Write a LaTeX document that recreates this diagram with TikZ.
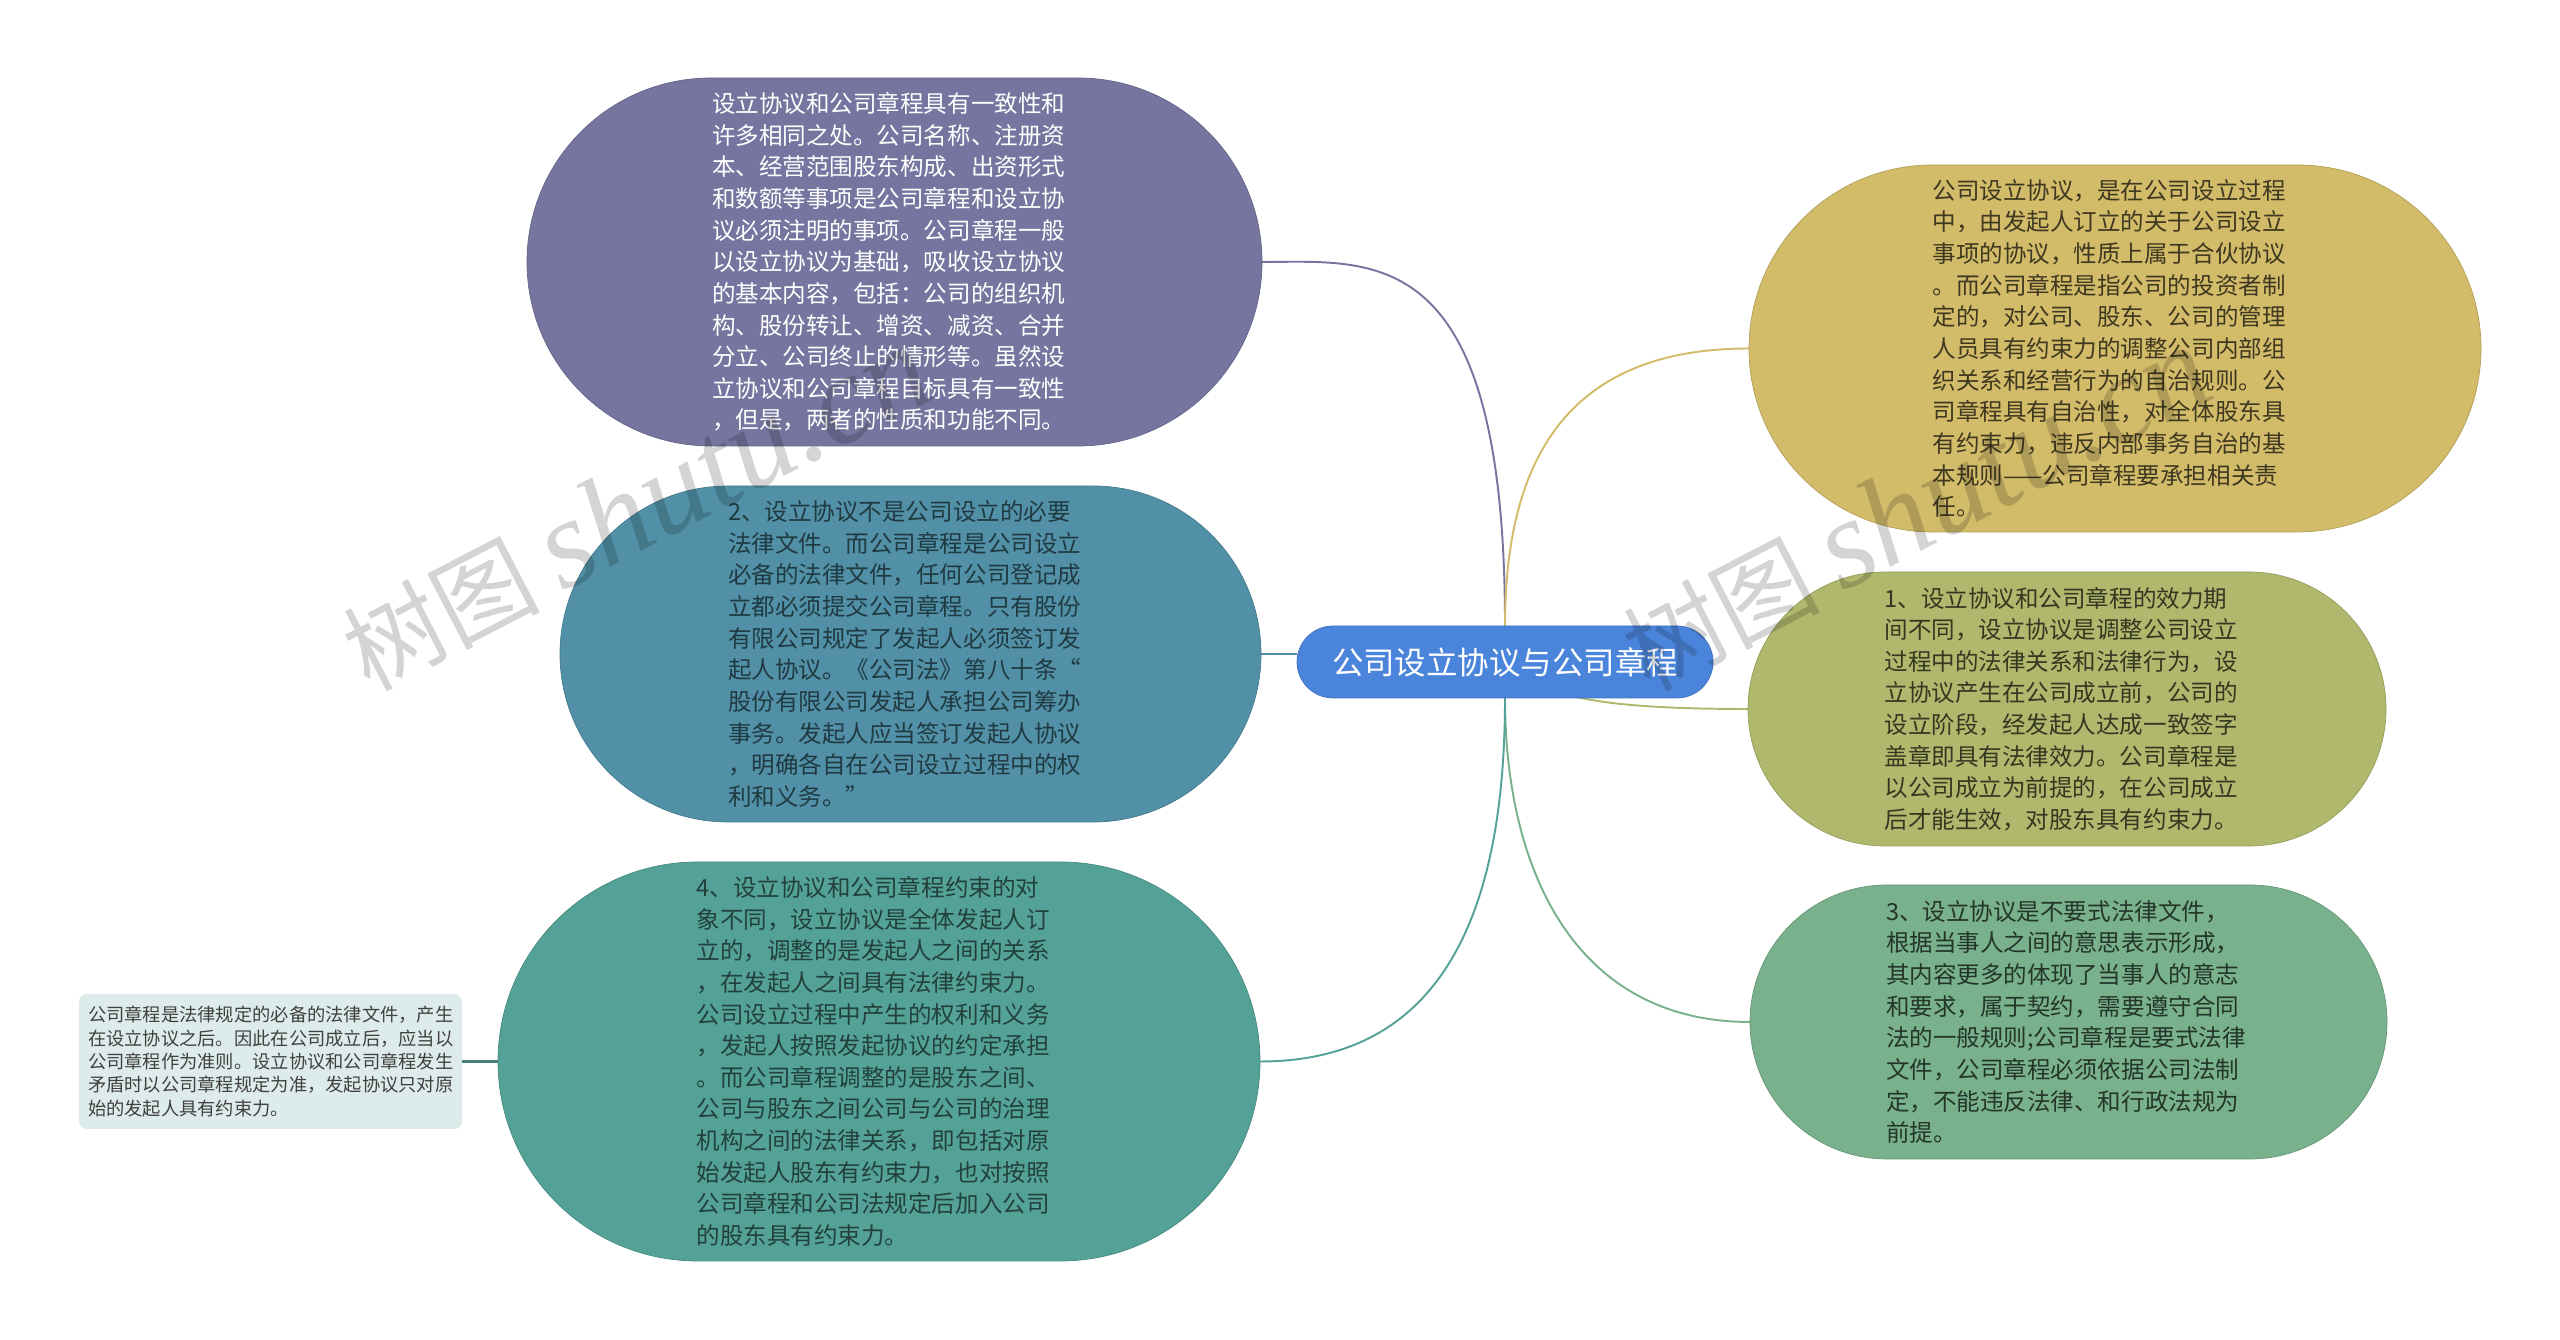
\documentclass[tikz,border=0pt]{standalone}
\usepackage{fontspec}
\setmainfont{Noto Sans CJK SC}
\newfontfamily\markfont{Liberation Serif}
\usetikzlibrary{calc,positioning,backgrounds,shapes.misc}

\definecolor{rootblue}{HTML}{4A85DB}
\definecolor{purplefill}{HTML}{76759F}
\definecolor{bluefill}{HTML}{5190A6}
\definecolor{tealfill}{HTML}{54A297}
\definecolor{noteill}{HTML}{DDECEA}
\definecolor{goldfill}{HTML}{D2BB69}
\definecolor{olivefill}{HTML}{AFB86C}
\definecolor{greenfill}{HTML}{78B18B}

\begin{document}
\begin{tikzpicture}

    \tikzstyle{pill}=[rounded rectangle,draw,outer sep=0pt,inner xsep=0pt,inner ysep=0pt,text width=7.3cm,align=left,font=\fontsize{13.4}{18}\selectfont]
    \tikzstyle{link}=[line width=1.1pt]
    \tikzstyle{stamp}=[font=\fontsize{56}{56}\selectfont,text=black,text opacity=0.17,rotate=27.5,anchor=base west,inner sep=0pt]

    \useasboundingbox (0,0) rectangle (51.2,26.8);

    \node (root) [rounded rectangle,fill=rootblue,draw=rootblue!85!black,outer sep=0pt,minimum width=8.32cm,minimum height=1.44cm,inner sep=0pt,text=white,font=\fontsize{17.9}{22}\selectfont] at (30.1,13.56) {公司设立协议与公司章程};

    \node (part_a) [pill,fill=purplefill,draw=purplefill!85!black,text=white,minimum height=7.36cm,minimum width=14.7cm] at (17.89,21.56) {设立协议和公司章程具有一致性和\\许多相同之处。公司名称、注册资\\本、经营范围股东构成、出资形式\\和数额等事项是公司章程和设立协\\议必须注明的事项。公司章程一般\\以设立协议为基础，吸收设立协议\\的基本内容，包括：公司的组织机\\构、股份转让、增资、减资、合并\\分立、公司终止的情形等。虽然设\\立协议和公司章程目标具有一致性\\，但是，两者的性质和功能不同。};

    \node (part_2) [pill,fill=bluefill,draw=bluefill!85!black,text=bluefill!40!black,minimum height=6.72cm,minimum width=14.02cm] at (18.21,13.72) {2、设立协议不是公司设立的必要\\法律文件。而公司章程是公司设立\\必备的法律文件，任何公司登记成\\立都必须提交公司章程。只有股份\\有限公司规定了发起人必须签订发\\起人协议。《公司法》第八十条“\\股份有限公司发起人承担公司筹办\\事务。发起人应当签订发起人协议\\，明确各自在公司设立过程中的权\\利和义务。”};

    \node (part_4) [pill,fill=tealfill,draw=tealfill!85!black,text=tealfill!40!black,minimum height=7.98cm,minimum width=15.24cm] at (17.58,5.57) {4、设立协议和公司章程约束的对\\象不同，设立协议是全体发起人订\\立的，调整的是发起人之间的关系\\，在发起人之间具有法律约束力。\\公司设立过程中产生的权利和义务\\，发起人按照发起协议的约定承担\\。而公司章程调整的是股东之间、\\公司与股东之间公司与公司的治理\\机构之间的法律关系，即包括对原\\始发起人股东有约束力，也对按照\\公司章程和公司法规定后加入公司\\的股东具有约束力。};

    \node (note_4) [fill=noteill,rounded corners=0.16cm,outer sep=0pt,inner xsep=0pt,inner ysep=0pt,text width=7.3cm,align=left,minimum width=7.66cm,minimum height=2.7cm,text=black!75,font=\fontsize{10.4}{13.3}\selectfont] at (5.41,5.57) {公司章程是法律规定的必备的法律文件，产生\\在设立协议之后。因此在公司成立后，应当以\\公司章程作为准则。设立协议和公司章程发生\\矛盾时以公司章程规定为准，发起协议只对原\\始的发起人具有约束力。};

    \node (part_gold) [pill,fill=goldfill,draw=goldfill!85!black,text=goldfill!30!black,minimum height=7.34cm,minimum width=14.64cm] at (42.3,19.83) {公司设立协议，是在公司设立过程\\中，由发起人订立的关于公司设立\\事项的协议，性质上属于合伙协议\\。而公司章程是指公司的投资者制\\定的，对公司、股东、公司的管理\\人员具有约束力的调整公司内部组\\织关系和经营行为的自治规则。公\\司章程具有自治性，对全体股东具\\有约束力，违反内部事务自治的基\\本规则——公司章程要承担相关责\\任。};

    \node (part_1) [pill,fill=olivefill,draw=olivefill!85!black,text=olivefill!30!black,minimum height=5.48cm,minimum width=12.76cm] at (41.34,12.62) {1、设立协议和公司章程的效力期\\间不同，设立协议是调整公司设立\\过程中的法律关系和法律行为，设\\立协议产生在公司成立前，公司的\\设立阶段，经发起人达成一致签字\\盖章即具有法律效力。公司章程是\\以公司成立为前提的，在公司成立\\后才能生效，对股东具有约束力。};

    \node (part_3) [pill,fill=greenfill,draw=greenfill!85!black,text=greenfill!30!black,minimum height=5.48cm,minimum width=12.74cm] at (41.37,6.36) {3、设立协议是不要式法律文件，\\根据当事人之间的意思表示形成，\\其内容更多的体现了当事人的意志\\和要求，属于契约，需要遵守合同\\法的一般规则;公司章程是要式法律\\文件，公司章程必须依据公司法制\\定，不能违反法律、和行政法规为\\前提。};

    \begin{scope}[on background layer]
        \draw [link,draw=purplefill] (root.north) .. controls (30.1,22) and (27.5,21.56) .. (part_a.east);
        \draw [link,draw=goldfill] (root.north) .. controls (30.1,17.8) and (31.5,19.83) .. (part_gold.west);
        \draw [link,draw=olivefill] (root.center) .. controls (30.8,12.9) and (31.8,12.62) .. (part_1.west);
        \draw [link,draw=greenfill] (root.south) .. controls (30.1,9.4) and (31.5,6.36) .. (part_3.west);
        \draw [link,draw=tealfill] (root.south) .. controls (30.1,8) and (28.5,5.57) .. (part_4.east);
        \draw [link,draw=bluefill] (part_2.east) -- (part_2.east -| root.west);
        \draw [line width=1.5pt,draw=tealfill!80!black] (note_4.east) -- (part_4.west);
    \end{scope}

    \foreach \i/\dx in {1/0,2/25.6}
        \node (stamp_\i) [stamp] at (7.38+\dx,12.94) {树图{\markfont\itshape\fontsize{72}{72}\selectfont\,shutu.cn}};

\end{tikzpicture}
\end{document}
